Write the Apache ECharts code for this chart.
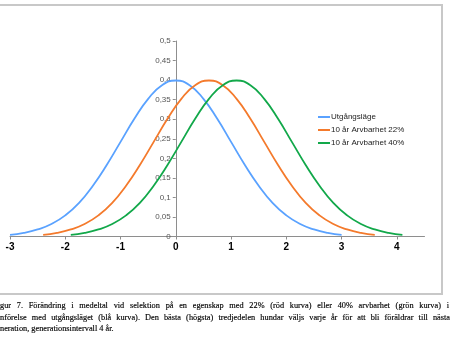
<!DOCTYPE html>
<html><head><meta charset="utf-8">
<script src="https://cdn.jsdelivr.net/npm/echarts@6/dist/echarts.min.js"></script>
<style>
html,body{margin:0;padding:0;background:#fff;overflow:hidden;width:454px;height:341px}
#chart{position:absolute;left:0;top:0;width:454px;height:341px}
.cap{position:absolute;left:0;font-family:'Liberation Serif',serif;font-size:8.3px;color:#000;line-height:12px;height:12px;overflow:hidden;-webkit-text-stroke:0.15px #000}
.j{text-align:justify;text-align-last:justify}
</style></head>
<body>
<div id="chart"></div>
<div class="cap j" style="top:300px;width:449px">gur 7. Förändring i medeltal vid selektion på en egenskap med 22% (röd kurva) eller 40% arvbarhet (grön kurva) i</div>
<div class="cap j" style="top:312px;width:450px">nförelse med utgångsläget (blå kurva). Den bästa (högsta) tredjedelen hundar väljs varje år för att bli föräldrar till nästa</div>
<div class="cap" style="top:323px;width:450px">neration, generationsintervall 4 år.</div>
<script>
var seriesNames = ['Utgångsläge', '10 år Arvbarhet 22%', '10 år Arvbarhet 40%'];
var xTickLabels = [-3, -2, -1, 0, 1, 2, 3, 4];
var xBlue = [-3,-2.75,-2.5,-2.25,-2,-1.75,-1.5,-1.25,-1,-0.75,-0.5,-0.25,0,0.25,0.5,0.75,1,1.25,1.5,1.75,2,2.25,2.5,2.75,3];
var yBlue = [0.004,0.009,0.018,0.032,0.054,0.086,0.130,0.183,0.242,0.301,0.352,0.387,0.399,0.387,0.352,0.301,0.242,0.183,0.130,0.086,0.054,0.032,0.018,0.009,0.004];
var xOrange = [-2.4,-2.15,-1.9,-1.65,-1.4,-1.15,-0.9,-0.65,-0.4,-0.15,0.1,0.35,0.6,0.85,1.1,1.35,1.6,1.85,2.1,2.35,2.6,2.85,3.1,3.35,3.6];
var yOrange = [0.004,0.009,0.018,0.032,0.054,0.086,0.130,0.183,0.242,0.301,0.352,0.387,0.399,0.387,0.352,0.301,0.242,0.183,0.130,0.086,0.054,0.032,0.018,0.009,0.004];
var xGreen = [-1.9,-1.65,-1.4,-1.15,-0.9,-0.65,-0.4,-0.15,0.1,0.35,0.6,0.85,1.1,1.35,1.6,1.85,2.1,2.35,2.6,2.85,3.1,3.35,3.6,3.85,4.1];
var yGreen = [0.004,0.009,0.018,0.032,0.054,0.086,0.130,0.183,0.242,0.301,0.352,0.387,0.399,0.387,0.352,0.301,0.242,0.183,0.130,0.086,0.054,0.032,0.018,0.009,0.004];
var colors = ['#5AA2FF', '#F47A2C', '#12A84A'];

function pairs(xs, ys) { return xs.map(function (x, i) { return [x, ys[i]]; }); }

var chart = echarts.init(document.getElementById('chart'), null, {renderer: 'canvas'});
var sData = [pairs(xBlue, yBlue), pairs(xOrange, yOrange), pairs(xGreen, yGreen)];
chart.setOption({
  animation: false,
  textStyle: {fontFamily: 'Liberation Sans, Arial, sans-serif'},
  graphic: [{
    type: 'rect', silent: true,
    shape: {x: -10, y: 5, width: 452, height: 289},
    style: {fill: 'none', stroke: '#c8c8c8', lineWidth: 2}
  }],
  grid: {left: 10, right: 29.5, top: 41, bottom: 104.5},
  legend: {
    orient: 'vertical', left: 318, top: 112, padding: 0,
    icon: 'rect', itemWidth: 12, itemHeight: 2, itemGap: 3,
    textStyle: {fontSize: 8, color: '#222', padding: [0, 0, 0, -4], lineHeight: 10,
      fontFamily: 'Liberation Sans, Arial, sans-serif'},
    data: seriesNames
  },
  xAxis: {
    type: 'value', min: -3, max: 4.5, interval: 1,
    splitLine: {show: false},
    axisLine: {onZero: false, lineStyle: {color: '#8e8e8e', width: 1}},
    axisTick: {show: true, length: 3, lineStyle: {color: '#8e8e8e'}, customValues: xTickLabels},
    axisLabel: {fontSize: 10, fontWeight: 'bold', color: '#000', margin: 6, customValues: xTickLabels,
      formatter: function (v) { return String(v); }}
  },
  yAxis: {
    type: 'value', min: 0, max: 0.5, interval: 0.05, position: 'left', offset: -165.75,
    splitLine: {show: false},
    axisLine: {show: true, onZero: false, lineStyle: {color: '#8e8e8e', width: 1}},
    axisTick: {show: true, length: 3, lineStyle: {color: '#8e8e8e'}},
    axisLabel: {fontSize: 8, color: '#555', margin: 5,
      formatter: function (v) { return String(+v.toFixed(2)).replace('.', ','); }}
  },
  series: seriesNames.map(function (n, i) {
    return {
      name: n, type: 'line', data: sData[i], smooth: true, symbol: 'none',
      lineStyle: {color: colors[i], width: 1.8}, itemStyle: {color: colors[i]}
    };
  })
});
</script>
</body></html>
